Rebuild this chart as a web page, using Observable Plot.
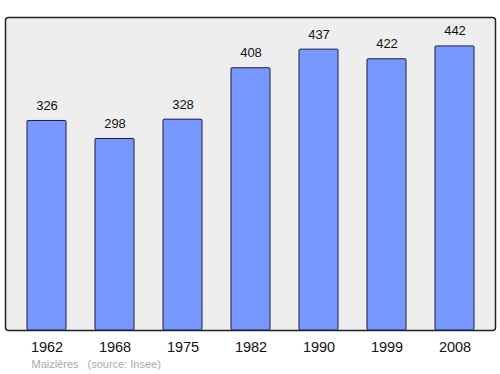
<!DOCTYPE html>
<html>
<head>
<meta charset="utf-8">
<script src="https://cdn.jsdelivr.net/npm/d3@7"></script>
<script src="https://cdn.jsdelivr.net/npm/@observablehq/plot@0.6"></script>
<style>
  body { margin: 0; background: #fff; }
  svg { font-family: "Liberation Sans", Arial, sans-serif; }
</style>
</head>
<body>
<div id="chart"></div>
<script>
const years = ["1962", "1968", "1975", "1982", "1990", "1999", "2008"];
const population = [326, 298, 328, 408, 437, 422, 442];
const place = "Maizières";
const source = "(source: Insee)";

const data = years.map((y, i) => ({year: y, pop: population[i]}));

const chart = Plot.plot({
  width: 500,
  height: 374,
  marginLeft: 5,
  marginRight: 5,
  marginTop: 17,
  marginBottom: 44,
  style: {fontFamily: "'Liberation Sans', Arial, sans-serif", background: "#fff"},
  x: {domain: years, paddingInner: 0.43, paddingOuter: 0.3, label: null},
  y: {domain: [0, 487], axis: null},
  marks: [
    Plot.frame({fill: "#eeeeee", stroke: "#222", strokeWidth: 1.5, rx: 3}),
    Plot.barY(data, {x: "year", y: "pop", fill: "#7799ff", stroke: "#1a1a4a", strokeWidth: 1, rx: 1}),
    Plot.text(data, {x: "year", y: "pop", text: d => String(d.pop), dy: -11, lineAnchor: "bottom", fontSize: 13, fill: "#111"}),
    Plot.axisX({tickSize: 0, tickPadding: 11, fontSize: 14.5, label: null, color: "#111"}),
    Plot.text([place], {frameAnchor: "bottom-left", dx: 26, dy: 37, text: d => d, fontSize: 11, fill: "#aaa", textAnchor: "start"}),
    Plot.text([source], {frameAnchor: "bottom-left", dx: 82, dy: 37, text: d => d, fontSize: 11, fill: "#aaa", textAnchor: "start"})
  ]
});
document.getElementById("chart").appendChild(chart);
</script>
</body>
</html>
